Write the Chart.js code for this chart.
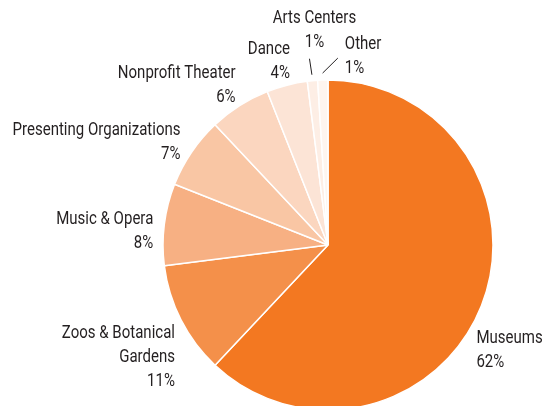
<!DOCTYPE html>
<html>
<head>
<meta charset="utf-8">
<script src="https://cdn.jsdelivr.net/npm/chart.js@4.4.0/dist/chart.umd.min.js"></script>
<style>
  html, body { margin: 0; padding: 0; background: #fff; overflow: hidden; }
  #wrap { width: 544px; height: 406px; position: relative; }
</style>
</head>
<body>
<div id="wrap"><canvas id="pie"></canvas></div>
<script>
const categories = ['Museums', 'Zoos & Botanical Gardens', 'Music & Opera', 'Presenting Organizations',
  'Nonprofit Theater', 'Dance', 'Arts Centers', 'Other'];
const shares = [62, 11, 8, 7, 6, 4, 1, 1];
const labelLines = [['Museums'], ['Zoos & Botanical', 'Gardens'], ['Music & Opera'], ['Presenting Organizations'],
  ['Nonprofit Theater'], ['Dance'], ['Arts Centers'], ['Other']];
const sliceColors = ['#F37821', '#F4904A', '#F7B083', '#F9C6A4', '#FBD6BF', '#FCE4D6', '#FDEEE5', '#FEF5EF'];

// label placement relative to the slice's outer edge at mid-angle
const labelLayout = [
  { align: 'left', dx: -5, dy: 33 },
  { align: 'right', dx: -6, dy: 14 },
  { align: 'right', dx: -11, dy: -5 },
  { align: 'right', dx: -11, dy: -22 },
  { align: 'right', dx: -4, dy: -32 },
  { align: 'right', dx: 3, dy: -36 },
  { align: 'center', dx: 2, dy: -62, leader: { from: 6, to: [-3, -22] } },
  { align: 'left', dx: 22, dy: -36, leader: { from: 7, to: [15, -22] } }
];

const FONT = '18px Roboto, "Noto Sans", sans-serif';
const LINE_H = 24;

const sliceLabels = {
  id: 'sliceLabels',
  afterDraw(chart) {
    const ctx = chart.ctx;
    const arcs = chart.getDatasetMeta(0).data;
    ctx.save();
    ctx.font = FONT;
    ctx.fillStyle = '#231F20';
    ctx.textBaseline = 'middle';
    // condensed look: squeeze the widest label to its width in the original
    const squeeze = 168 / ctx.measureText('Presenting Organizations').width;
    arcs.forEach((arc, i) => {
      const { x, y, startAngle, endAngle, outerRadius } = arc.getProps(['x', 'y', 'startAngle', 'endAngle', 'outerRadius'], true);
      const mid = (startAngle + endAngle) / 2;
      const ax = x + Math.cos(mid) * outerRadius;
      const ay = y + Math.sin(mid) * outerRadius;
      const lay = labelLayout[i];
      const lines = labelLines[i].concat([shares[i] + '%']);
      ctx.textAlign = lay.align;
      lines.forEach((t, k) => {
        ctx.save();
        ctx.translate(ax + lay.dx, ay + lay.dy + k * LINE_H);
        ctx.scale(squeeze, 1);
        ctx.fillText(t, 0, 0);
        ctx.restore();
      });
      if (lay.leader) {
        const r0 = outerRadius + lay.leader.from;
        ctx.beginPath();
        ctx.strokeStyle = '#231F20';
        ctx.lineWidth = 1;
        ctx.moveTo(x + Math.cos(mid) * r0, y + Math.sin(mid) * r0);
        ctx.lineTo(ax + lay.leader.to[0], ay + lay.leader.to[1]);
        ctx.stroke();
      }
    });
    ctx.restore();
  }
};

new Chart(document.getElementById('pie').getContext('2d'), {
  type: 'pie',
  data: {
    labels: categories,
    datasets: [{
      data: shares,
      backgroundColor: sliceColors,
      borderColor: '#fff',
      borderWidth: 1.5
    }]
  },
  options: {
    responsive: true,
    maintainAspectRatio: false,
    animation: false,
    radius: 165,
    layout: { padding: { left: 112, right: 0, top: 84, bottom: 0 } },
    plugins: {
      legend: { display: false },
      tooltip: { enabled: false }
    }
  },
  plugins: [sliceLabels]
});
</script>
</body>
</html>
